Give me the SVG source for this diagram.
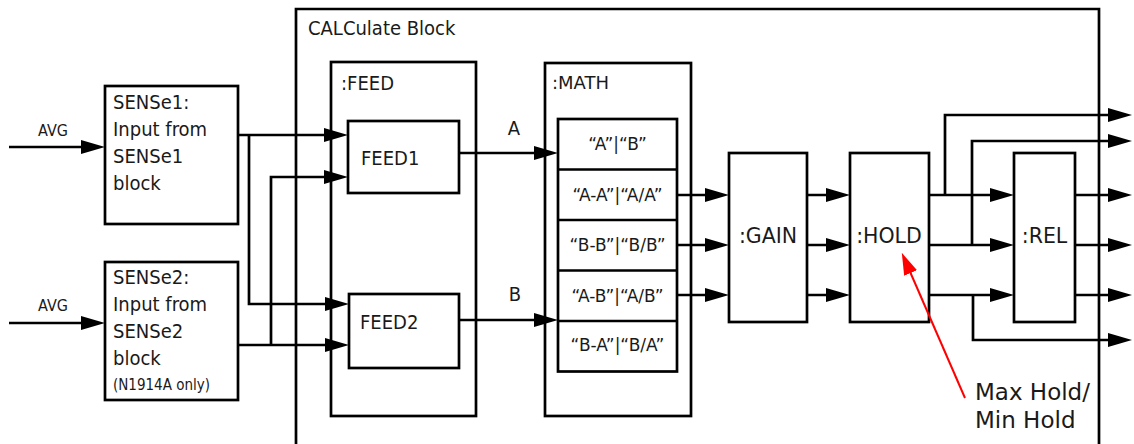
<svg xmlns="http://www.w3.org/2000/svg" width="1134" height="444" viewBox="0 0 1134 444">
<style>
.box{fill:#fff;stroke:#000;stroke-width:2.7}
.frame{fill:none;stroke:#000;stroke-width:2.7}
.cn{fill:none;stroke:#000;stroke-width:2.7;marker-end:url(#ah)}
.ln{fill:none;stroke:#000;stroke-width:2.7}
.c{font-family:"DejaVu Sans Condensed","DejaVu Sans",sans-serif;font-stretch:condensed;fill:#1a1a1a}
.n{font-family:"DejaVu Sans",sans-serif;fill:#1a1a1a}
</style>
<defs>
<marker id="ah" markerUnits="userSpaceOnUse" markerWidth="24" markerHeight="14" refX="14" refY="7" orient="auto" viewBox="0 0 24 14">
<path d="M0,0 L24,7 L0,14 z" fill="#000"/>
</marker>
<marker id="rah" markerUnits="userSpaceOnUse" markerWidth="22" markerHeight="14" refX="12" refY="7" orient="auto" viewBox="0 0 22 14">
<path d="M0,0 L22,7 L0,14 z" fill="#f00"/>
</marker>
</defs>
<rect width="1134" height="444" fill="#fff"/>

<g id="calculate-block">
<path class="frame" d="M296,444 V9 H1099 V444"/>
<text class="c" x="308" y="35" font-size="20">CALCulate Block</text>
</g>

<g id="feed-group">
<rect class="box" x="331" y="62" width="145" height="354"/>
<text class="c" x="341" y="90" font-size="20">:FEED</text>
</g>

<g id="math-group">
<rect class="box" x="545" y="63" width="146" height="353"/>
<text class="n" x="552" y="89" font-size="18">:MATH</text>
</g>

<g id="sense1">
<rect class="box" x="105" y="86" width="133" height="138"/>
<text class="c" font-size="20"><tspan x="113" y="109">SENSe1:</tspan><tspan x="113" y="136">Input from</tspan><tspan x="113" y="163">SENSe1</tspan><tspan x="113" y="190">block</tspan></text>
</g>

<g id="sense2">
<rect class="box" x="105" y="262" width="133" height="138"/>
<text class="c" font-size="20"><tspan x="113" y="284">SENSe2:</tspan><tspan x="113" y="311">Input from</tspan><tspan x="113" y="338">SENSe2</tspan><tspan x="113" y="365">block</tspan></text>
<text class="c" x="113" y="390" font-size="15">(N1914A only)</text>
</g>

<g id="feed1">
<rect class="box" x="348" y="121" width="111" height="72"/>
<text class="c" x="361" y="165" font-size="20">FEED1</text>
</g>

<g id="feed2">
<rect class="box" x="349" y="294" width="110" height="74"/>
<text class="c" x="360" y="329" font-size="20">FEED2</text>
</g>

<g id="math-cells">
<rect class="box" x="558" y="119" width="119" height="252.5"/>
<path class="ln" d="M558,169.5 H677 M558,220 H677 M558,270.5 H677 M558,321 H677"/>
<g class="n" font-size="17" text-anchor="middle">
<text x="617.5" y="150">“A”|“B”</text>
<text x="617.5" y="200.5">“A-A”|“A/A”</text>
<text x="617.5" y="251">“B-B”|“B/B”</text>
<text x="617.5" y="301.5">“A-B”|“A/B”</text>
<text x="617.5" y="351">“B-A”|“B/A”</text>
</g>
</g>

<g id="gain">
<rect class="box" x="729" y="153" width="78" height="169"/>
<text class="n" x="768" y="243" font-size="20.5" text-anchor="middle">:GAIN</text>
</g>

<g id="hold">
<rect class="box" x="850" y="153" width="79" height="169"/>
<text class="n" x="889" y="243" font-size="20.5" text-anchor="middle">:HOLD</text>
</g>

<g id="rel">
<rect class="box" x="1014" y="153" width="61" height="169"/>
<text class="n" x="1044.5" y="243" font-size="20.5" text-anchor="middle">:REL</text>
</g>

<g id="connectors">
<path class="cn" d="M9,147 H95"/>
<path class="cn" d="M9,323 H95"/>
<path class="cn" d="M238,135 H338"/>
<path class="cn" d="M249,135 V304 H339"/>
<path class="cn" d="M238,345 H339"/>
<path class="cn" d="M271,345 V177 H338"/>
<path class="cn" d="M459,153 H548"/>
<path class="cn" d="M459,320 H548"/>
<path class="cn" d="M677,195 H719"/>
<path class="cn" d="M677,245 H719"/>
<path class="cn" d="M677,295 H719"/>
<path class="cn" d="M807,195 H840"/>
<path class="cn" d="M807,245 H840"/>
<path class="cn" d="M807,295 H840"/>
<path class="cn" d="M929,195 H1004"/>
<path class="cn" d="M929,245 H1004"/>
<path class="cn" d="M929,295 H1004"/>
<path class="cn" d="M945,195 V115 H1122"/>
<path class="cn" d="M972,245 V141 H1122"/>
<path class="cn" d="M973,295 V340 H1122"/>
<path class="cn" d="M1075,195 H1122"/>
<path class="cn" d="M1075,245 H1122"/>
<path class="cn" d="M1075,295 H1122"/>
<text class="c" x="514" y="135" font-size="20" text-anchor="middle">A</text>
<text class="c" x="515" y="301" font-size="20" text-anchor="middle">B</text>
<text class="c" x="53" y="136" font-size="16" text-anchor="middle">AVG</text>
<text class="c" x="53" y="311" font-size="16" text-anchor="middle">AVG</text>
</g>

<g id="hold-note">
<path d="M965,398 L905.8,262" fill="none" stroke="#f00" stroke-width="2" marker-end="url(#rah)"/>
<text class="n" font-size="23"><tspan x="975" y="400">Max Hold/</tspan><tspan x="975" y="428">Min Hold</tspan></text>
</g>
</svg>
